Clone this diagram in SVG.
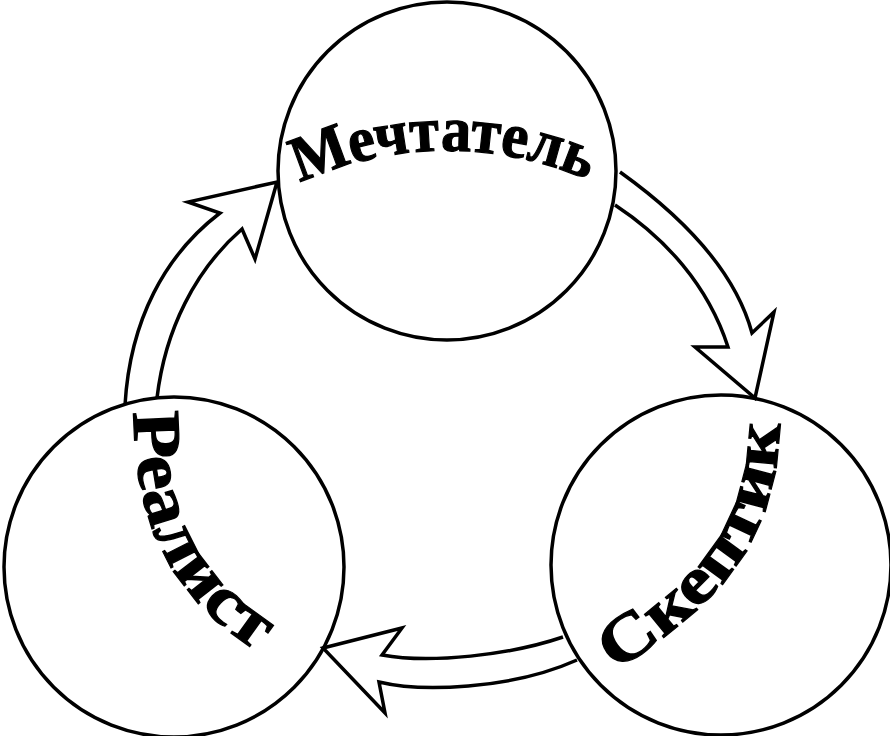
<svg xmlns="http://www.w3.org/2000/svg" width="890" height="736" viewBox="0 0 890 736">
<style>
.node circle{fill:none;stroke:#000;stroke-width:3.5}
.arrow{fill:none;stroke:#000;stroke-width:3.5;stroke-linejoin:miter;stroke-miterlimit:10}
.label{font-family:"Liberation Serif","Times New Roman",serif;font-weight:bold;fill:#000;stroke:#000;stroke-width:1.2}
</style>
<defs>
<path id="pM" d="M300,183 A350,350 0 0 1 594,183"/>
<path id="pR" d="M134,412 C133,520 170,600 268,658"/>
<path id="pS" d="M616,672 C700,612 778,560 780,418"/>
</defs>
<rect width="890" height="736" fill="#fff"/>
<g id="connectors">
<path class="arrow" d="M125,405 C130,320 165,255 220,213 L188,202 L277,182 L255,259 L242,229 C195,270 165,330 157,398"/>
<path class="arrow" d="M620,172 C680,215 735,270 752,333 L774,312 L755,398 L695,347 L728,347 C708,285 665,238 615,205"/>
<path class="arrow" d="M563,637 C510,655 430,664 382,655 L402,628 L323,648 L385,713 L379,682 C420,692 510,690 577,660"/>
</g>
<g id="node-dreamer" class="node">
<circle cx="447" cy="171" r="169"/>
<text class="label" font-size="64"><textPath href="#pM" textLength="296" lengthAdjust="spacingAndGlyphs">Мечтатель</textPath></text>
</g>
<g id="node-realist" class="node">
<circle cx="174" cy="567" r="170"/>
<text class="label" font-size="68"><textPath href="#pR" textLength="282" lengthAdjust="spacingAndGlyphs">Реалист</textPath></text>
</g>
<g id="node-sceptic" class="node">
<circle cx="721" cy="565" r="170"/>
<text class="label" font-size="66"><textPath href="#pS" textLength="312" lengthAdjust="spacingAndGlyphs">Скептик</textPath></text>
</g>
</svg>
